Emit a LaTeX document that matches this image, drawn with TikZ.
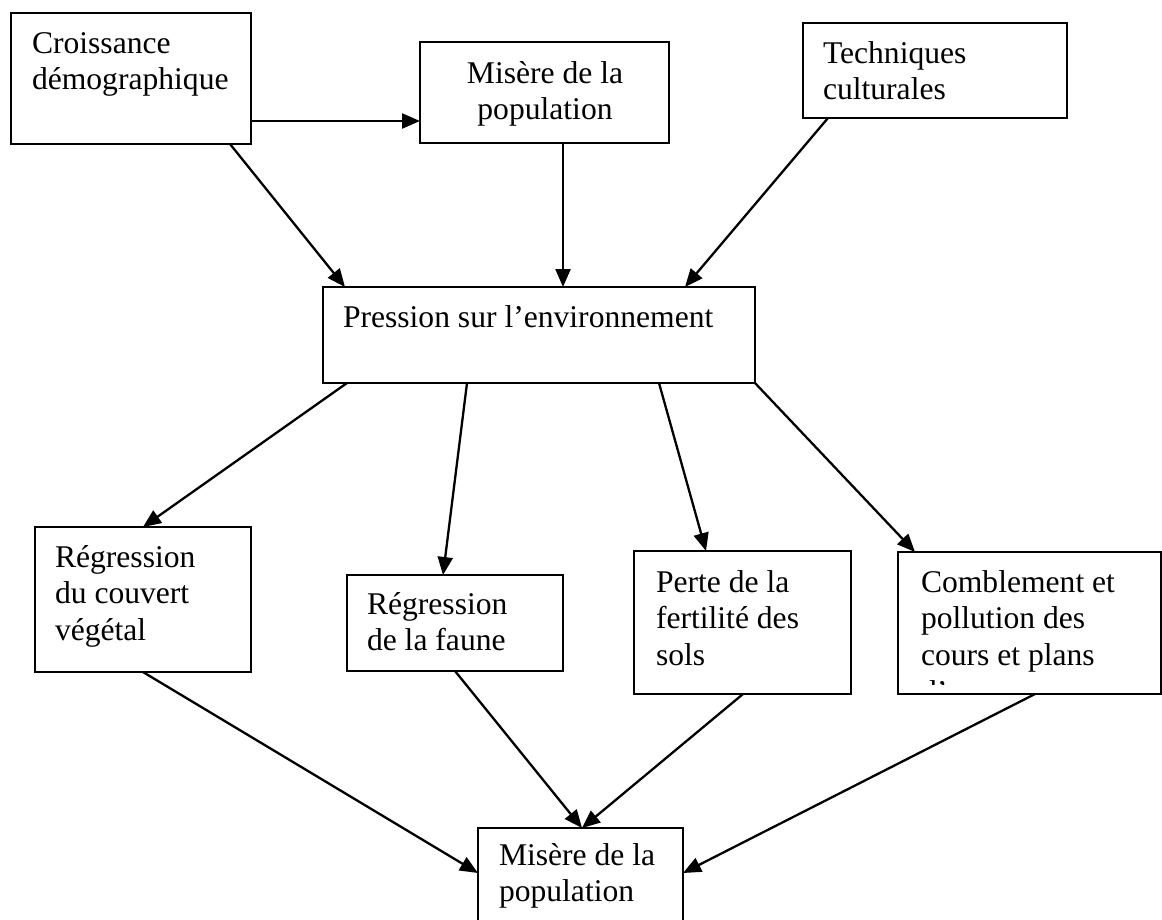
\documentclass[tikz,border=0pt]{standalone}
\usepackage{fontspec}
\setmainfont{Liberation Serif}
\usetikzlibrary{arrows.meta}
\tikzset{
  box/.style={draw=black, line width=2.3pt, inner sep=0pt, outer sep=0pt, fill=none, anchor=north west},
  txt/.style={inner sep=0pt, outer sep=0pt, anchor=base west, font=\fontsize{31.6}{36.8}\selectfont},
  ctxt/.style={txt, anchor=base},
  arr/.style={line width=2.3pt, -{Triangle[length=18pt,width=15pt]}}
}
\begin{document}
\begin{tikzpicture}[x=1pt,y=-1pt]
\useasboundingbox (0,0) rectangle (1162,919);
\fill[white] (0,0) rectangle (1162,919);
% boxes
\node[box, minimum width=240pt, minimum height=131pt] (cro) at (11,13) {};
\node[box, minimum width=249pt, minimum height=101pt] (mis1) at (420,42) {};
\node[box, minimum width=264pt, minimum height=95pt] (tec) at (803,23) {};
\node[box, minimum width=432pt, minimum height=96pt] (pre) at (323,287) {};
\node[box, minimum width=216pt, minimum height=145pt] (cou) at (35,527) {};
\node[box, minimum width=216pt, minimum height=96pt] (fau) at (347,575) {};
\node[box, minimum width=217pt, minimum height=143pt] (per) at (634,551) {};
\node[box, minimum width=263pt, minimum height=142pt] (com) at (898,552) {};
\node[box, minimum width=205pt, minimum height=110pt] (mis2) at (478,828) {};
% texts
\node[txt] (tcro) at (32,53) {\vtop{\hbox{Croissance}\hbox{démographique}}};
\node[ctxt] (tmis1) at (545,83) {\vtop{\hbox to 0pt{\hss Misère de la\hss}\hbox to 0pt{\hss population\hss}}};
\node[txt] (ttec) at (823,63) {\vtop{\hbox{Techniques}\hbox{culturales}}};
\node[txt] (tpre) at (343,327) {Pression sur l’environnement};
\node[txt] (tcou) at (55,567) {\vtop{\hbox{Régression}\hbox{du couvert}\hbox{végétal}}};
\node[txt] (tfau) at (367,614) {\vtop{\hbox{Régression}\hbox{de la faune}}};
\node[txt] (tper) at (656,592) {\vtop{\hbox{Perte de la}\hbox{fertilité des}\hbox{sols}}};
\begin{scope}
  \clip (com.north west) rectangle ([yshift=9.5pt]com.south east);
  \node[txt] (tcom) at (921,592) {\vtop{\hbox{Comblement et}\hbox{pollution des}\hbox{cours et plans}\hbox{d’eau}}};
\end{scope}
\node[txt] (tmis2) at (499,865) {\vtop{\hbox{Misère de la}\hbox{population}}};
% connectors
\draw[arr] ([yshift=23pt]cro.south east) -- ([yshift=22pt]mis1.south west);
\draw[arr] ([xshift=219pt]cro.south west) -- ([xshift=22pt]pre.north west);
\draw[arr] ([xshift=143pt]mis1.south west) -- ([xshift=240pt]pre.north west);
\draw[arr] ([xshift=25pt]tec.south west) -- ([xshift=362pt]pre.north west);
\draw[arr] ([xshift=24pt]pre.south west) -- ([xshift=108pt]cou.north west);
\draw[arr] ([xshift=144pt]pre.south west) -- ([xshift=96pt]fau.north west);
\draw[arr] ([xshift=336pt]pre.south west) -- ([xshift=72pt]per.north west);
\draw[arr] (pre.south east) -- ([xshift=17pt]com.north west);
\draw[arr] ([xshift=108pt]cou.south west) -- ([yshift=-45pt]mis2.north west);
\draw[arr] ([xshift=108pt]fau.south west) -- ([xshift=104pt]mis2.north west);
\draw[arr] ([xshift=109pt]per.south west) -- ([xshift=104pt]mis2.north west);
\draw[arr] ([xshift=137pt]com.south west) -- ([yshift=-45pt]mis2.north east);
\end{tikzpicture}
\end{document}
